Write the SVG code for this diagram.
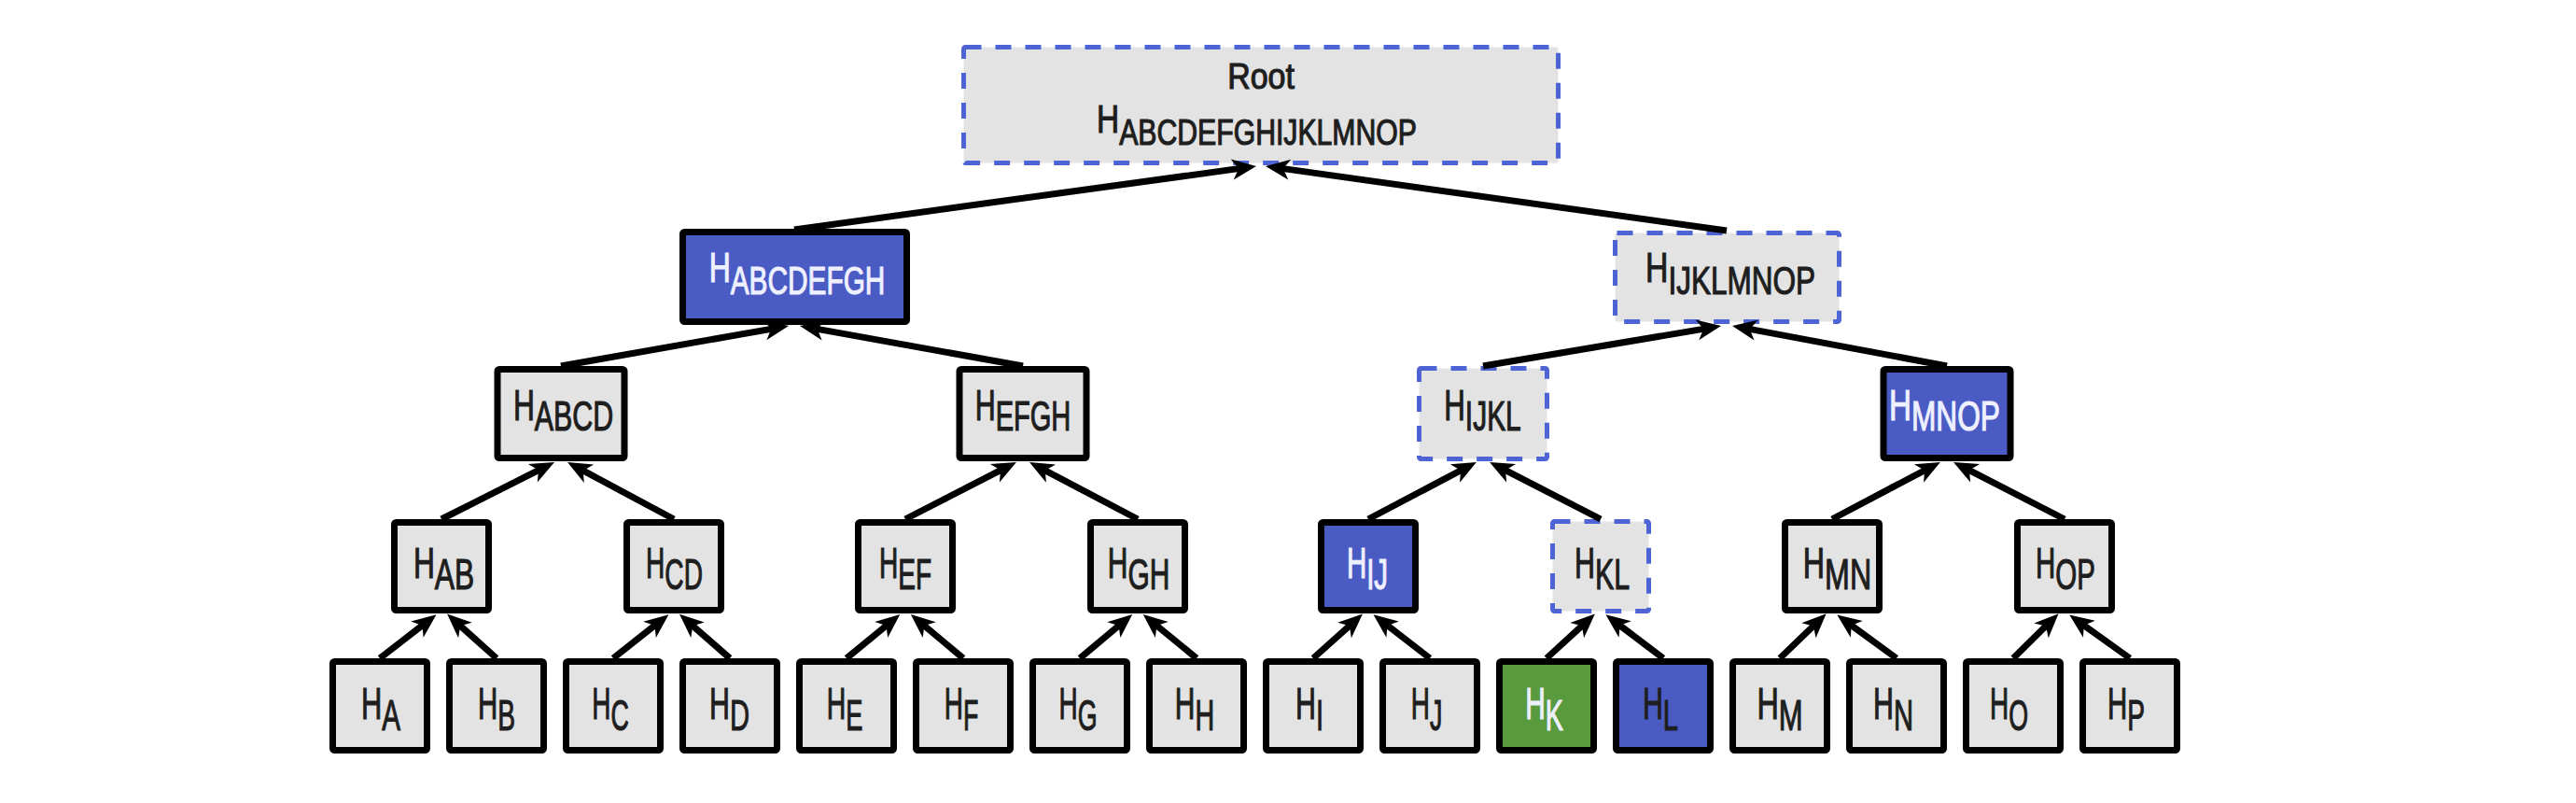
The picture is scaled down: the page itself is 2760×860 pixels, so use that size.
<svg xmlns="http://www.w3.org/2000/svg" width="2760" height="860" viewBox="0 0 2760 860">
<style>
.box{fill:#e3e3e3;stroke:#000;stroke-width:7}
.blue{fill:#4a5bc4}
.green{fill:#5a9a3e}
.dash{fill:#e3e3e3;stroke:#4f64d4;stroke-width:5;stroke-dasharray:17 15}
.t{font-family:"Liberation Sans",Arial,sans-serif;fill:#1e1e1e;stroke:#1e1e1e;stroke-width:1.2;text-anchor:middle}
.w{fill:#eef0ff;stroke:#eef0ff}
.t4{font-size:49px}.t4 tspan{font-size:47px}
.t3{font-size:46px}.t3 tspan{font-size:46px}
.t2{font-size:46px}.t2 tspan{font-size:44px}
.t1{font-size:45px}.t1 tspan{font-size:42px}
.t0{font-size:42px}.t0 tspan{font-size:38px}
.edge{stroke:#000;stroke-width:7;fill:none;marker-end:url(#ah)}
</style>
<defs>
<marker id="ah" viewBox="-28 -13 30 26" refX="-12" refY="0" markerWidth="30" markerHeight="26" markerUnits="userSpaceOnUse" orient="auto">
<path d="M0,0 L-26,-11 L-19,0 L-26,11 Z" fill="#000"/>
</marker>
</defs>
<rect width="2760" height="860" fill="#fff"/>

<g id="root"><rect class="dash" x="1032.5" y="50.5" width="637" height="124" rx="2"/>
<text class="t" style="font-size:39px" transform="translate(1351,95) scale(0.87,1)">Root</text>
<text class="t t0" transform="translate(1346.5,142) scale(0.795,1)">H<tspan dy="13">ABCDEFGHIJKLMNOP</tspan></text></g>

<g id="n-abcdefgh"><rect class="box blue" x="731.5" y="248.5" width="240" height="96" rx="2"/>
<text class="t t1 w" transform="translate(854,302) scale(0.71,1)">H<tspan dy="13">ABCDEFGH</tspan></text></g>
<g id="n-ijklmnop"><rect class="dash" x="1730.5" y="249.5" width="240" height="95" rx="2"/>
<text class="t t1" transform="translate(1854,302) scale(0.75,1)">H<tspan dy="13">IJKLMNOP</tspan></text></g>

<g id="n-abcd"><rect class="box" x="533" y="395.5" width="136" height="95" rx="2"/>
<text class="t t2" transform="translate(603.5,450) scale(0.69,1)">H<tspan dy="11">ABCD</tspan></text></g>
<g id="n-efgh"><rect class="box" x="1028" y="395.5" width="136" height="95" rx="2"/>
<text class="t t2" transform="translate(1096,450) scale(0.66,1)">H<tspan dy="11">EFGH</tspan></text></g>
<g id="n-ijkl"><rect class="dash" x="1520.5" y="394.5" width="137" height="97" rx="2"/>
<text class="t t2" transform="translate(1588.5,450) scale(0.68,1)">H<tspan dy="11">IJKL</tspan></text></g>
<g id="n-mnop"><rect class="box blue" x="2018" y="395.5" width="136" height="95" rx="2"/>
<text class="t t2 w" transform="translate(2083.5,450) scale(0.72,1)">H<tspan dy="11">MNOP</tspan></text></g>

<g id="n-ab"><rect class="box" x="422.5" y="559.5" width="101" height="94" rx="2"/>
<text class="t t3" transform="translate(475.5,619) scale(0.69,1)">H<tspan dy="12">AB</tspan></text></g>
<g id="n-cd"><rect class="box" x="671.5" y="559.5" width="101" height="94" rx="2"/>
<text class="t t3" transform="translate(722.5,619) scale(0.61,1)">H<tspan dy="12">CD</tspan></text></g>
<g id="n-ef"><rect class="box" x="919.5" y="559.5" width="101" height="94" rx="2"/>
<text class="t t3" transform="translate(970,619) scale(0.61,1)">H<tspan dy="12">EF</tspan></text></g>
<g id="n-gh"><rect class="box" x="1168.5" y="559.5" width="101" height="94" rx="2"/>
<text class="t t3" transform="translate(1220,619) scale(0.65,1)">H<tspan dy="12">GH</tspan></text></g>
<g id="n-ij"><rect class="box blue" x="1415.5" y="559.5" width="101" height="94" rx="2"/>
<text class="t t3 w" transform="translate(1465,619) scale(0.64,1)">H<tspan dy="12">IJ</tspan></text></g>
<g id="n-kl"><rect class="dash" x="1663.5" y="558.5" width="103" height="96" rx="2"/>
<text class="t t3" transform="translate(1716.5,619) scale(0.66,1)">H<tspan dy="12">KL</tspan></text></g>
<g id="n-mn"><rect class="box" x="1912.5" y="559.5" width="101" height="94" rx="2"/>
<text class="t t3" transform="translate(1968.5,619) scale(0.70,1)">H<tspan dy="12">MN</tspan></text></g>
<g id="n-op"><rect class="box" x="2161.5" y="559.5" width="101" height="94" rx="2"/>
<text class="t t3" transform="translate(2213,619) scale(0.64,1)">H<tspan dy="12">OP</tspan></text></g>

<g id="n-a"><rect class="box" x="356.5" y="708.5" width="101" height="95" rx="2"/>
<text class="t t4" transform="translate(408,770) scale(0.63,1)">H<tspan dy="12">A</tspan></text></g>
<g id="n-b"><rect class="box" x="481.5" y="708.5" width="101" height="95" rx="2"/>
<text class="t t4" transform="translate(532,770) scale(0.60,1)">H<tspan dy="12">B</tspan></text></g>
<g id="n-c"><rect class="box" x="606.5" y="708.5" width="101" height="95" rx="2"/>
<text class="t t4" transform="translate(654,770) scale(0.57,1)">H<tspan dy="12">C</tspan></text></g>
<g id="n-d"><rect class="box" x="731.5" y="708.5" width="101" height="95" rx="2"/>
<text class="t t4" transform="translate(781.5,770) scale(0.62,1)">H<tspan dy="12">D</tspan></text></g>
<g id="n-e"><rect class="box" x="856.5" y="708.5" width="101" height="95" rx="2"/>
<text class="t t4" transform="translate(905,770) scale(0.58,1)">H<tspan dy="12">E</tspan></text></g>
<g id="n-f"><rect class="box" x="981.5" y="708.5" width="101" height="95" rx="2"/>
<text class="t t4" transform="translate(1030,770) scale(0.57,1)">H<tspan dy="12">F</tspan></text></g>
<g id="n-g"><rect class="box" x="1106.5" y="708.5" width="101" height="95" rx="2"/>
<text class="t t4" transform="translate(1155,770) scale(0.57,1)">H<tspan dy="12">G</tspan></text></g>
<g id="n-h"><rect class="box" x="1231.5" y="708.5" width="101" height="95" rx="2"/>
<text class="t t4" transform="translate(1280,770) scale(0.61,1)">H<tspan dy="12">H</tspan></text></g>
<g id="n-i"><rect class="box" x="1356.5" y="708.5" width="101" height="95" rx="2"/>
<text class="t t4" transform="translate(1403,770) scale(0.62,1)">H<tspan dy="12">I</tspan></text></g>
<g id="n-j"><rect class="box" x="1481.5" y="708.5" width="101" height="95" rx="2"/>
<text class="t t4" transform="translate(1528.5,770) scale(0.57,1)">H<tspan dy="12">J</tspan></text></g>
<g id="n-k"><rect class="box green" x="1606.5" y="708.5" width="101" height="95" rx="2"/>
<text class="t t4 w" transform="translate(1654.5,770) scale(0.61,1)">H<tspan dy="12">K</tspan></text></g>
<g id="n-l"><rect class="box blue" x="1731.5" y="708.5" width="101" height="95" rx="2"/>
<text class="t t4" transform="translate(1779,770) scale(0.62,1)">H<tspan dy="12">L</tspan></text></g>
<g id="n-m"><rect class="box" x="1856.5" y="708.5" width="101" height="95" rx="2"/>
<text class="t t4" transform="translate(1907,770) scale(0.66,1)">H<tspan dy="12">M</tspan></text></g>
<g id="n-n"><rect class="box" x="1981.5" y="708.5" width="101" height="95" rx="2"/>
<text class="t t4" transform="translate(2028.5,770) scale(0.62,1)">H<tspan dy="12">N</tspan></text></g>
<g id="n-o"><rect class="box" x="2106.5" y="708.5" width="101" height="95" rx="2"/>
<text class="t t4" transform="translate(2152.5,770) scale(0.57,1)">H<tspan dy="12">O</tspan></text></g>
<g id="n-p"><rect class="box" x="2231.5" y="708.5" width="101" height="95" rx="2"/>
<text class="t t4" transform="translate(2278,770) scale(0.60,1)">H<tspan dy="12">P</tspan></text></g>

<g id="connectors">
<line class="edge" x1="851" y1="246" x2="1334.1" y2="179.6"/>
<line class="edge" x1="1850" y1="247" x2="1367.9" y2="179.6"/>
<line class="edge" x1="601" y1="392" x2="833.2" y2="351.1"/>
<line class="edge" x1="1096" y1="392" x2="868.8" y2="351.1"/>
<line class="edge" x1="1589" y1="392" x2="1832.2" y2="351.1"/>
<line class="edge" x1="2086" y1="392" x2="1867.8" y2="351.1"/>
<line class="edge" x1="473" y1="556" x2="583.3" y2="500.4"/>
<line class="edge" x1="722" y1="556" x2="618.6" y2="500.7"/>
<line class="edge" x1="970" y1="556" x2="1078.3" y2="500.4"/>
<line class="edge" x1="1219" y1="556" x2="1113.6" y2="500.6"/>
<line class="edge" x1="1466" y1="556" x2="1571.3" y2="500.5"/>
<line class="edge" x1="1715" y1="556" x2="1606.7" y2="500.4"/>
<line class="edge" x1="1963" y1="556" x2="2068.3" y2="500.5"/>
<line class="edge" x1="2212" y1="556" x2="2103.7" y2="500.4"/>
<line class="edge" x1="407" y1="705" x2="458" y2="665.6"/>
<line class="edge" x1="532" y1="705" x2="488" y2="665.6"/>
<line class="edge" x1="657" y1="705" x2="707" y2="665.6"/>
<line class="edge" x1="782" y1="705" x2="737" y2="665.6"/>
<line class="edge" x1="907" y1="705" x2="955" y2="665.6"/>
<line class="edge" x1="1032" y1="705" x2="985" y2="665.6"/>
<line class="edge" x1="1157" y1="705" x2="1204" y2="665.6"/>
<line class="edge" x1="1282" y1="705" x2="1234" y2="665.6"/>
<line class="edge" x1="1407" y1="705" x2="1451" y2="665.6"/>
<line class="edge" x1="1532" y1="705" x2="1481" y2="665.6"/>
<line class="edge" x1="1657" y1="705" x2="1700" y2="665.6"/>
<line class="edge" x1="1782" y1="705" x2="1730" y2="665.6"/>
<line class="edge" x1="1907" y1="705" x2="1948" y2="665.6"/>
<line class="edge" x1="2032" y1="705" x2="1978" y2="665.6"/>
<line class="edge" x1="2157" y1="705" x2="2197" y2="665.6"/>
<line class="edge" x1="2282" y1="705" x2="2227" y2="665.6"/>
</g>
</svg>
